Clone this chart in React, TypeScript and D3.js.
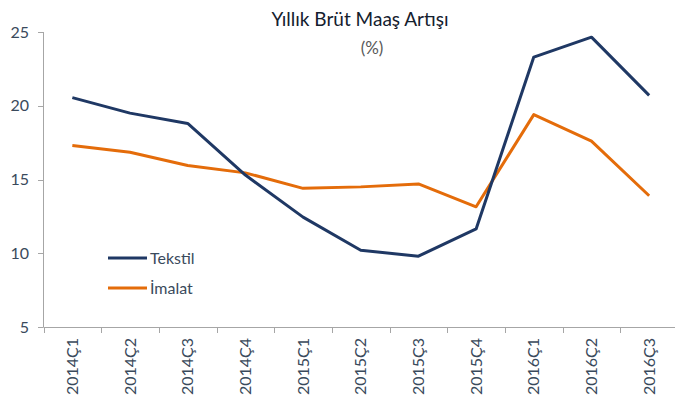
import React from "react";
import * as d3 from "d3";

const categories = ["2014Ç1","2014Ç2","2014Ç3","2014Ç4","2015Ç1","2015Ç2","2015Ç3","2015Ç4","2016Ç1","2016Ç2","2016Ç3"];
const tekstil = [20.55, 19.5, 18.8, 15.3, 12.45, 10.2, 9.8, 11.65, 23.3, 24.65, 20.7];
const imalat = [17.3, 16.85, 15.95, 15.45, 14.4, 14.5, 14.7, 13.15, 19.4, 17.6, 13.9];
const yTicks = [5, 10, 15, 20, 25];

const W = 675, H = 405;
const NAVY = "#1F3864";
const ORANGE = "#E46C0A";
const FONT = "Lato, 'Open Sans', sans-serif";

export default function App() {
  const x = d3.scaleBand().domain(categories).range([43.5, 678]);
  const y = d3.scaleLinear().domain([5, 25]).range([327, 32]);
  const cx = (c: string) => (x(c) as number) + x.bandwidth() / 2;
  const line = d3.line<number>().x((_, i) => cx(categories[i])).y(d => y(d));
  const tickX = [...categories.map(c => x(c) as number), 678];
  return (
    <div style={{ position: "absolute", left: 0, top: 0 }}>
      <svg width={W} height={H} style={{ display: "block", background: "#fff" }} fontFamily={FONT}>
        <text x={360} y={26} textAnchor="middle" fontSize={19} fill="#14202E">Yıllık Brüt Maaş Artışı</text>
        <text x={372} y={54} textAnchor="middle" fontSize={17} fill="#595959">(%)</text>
        {/* y axis */}
        <line x1={43.5} x2={43.5} y1={y(25)} y2={y(5)} stroke="#A6A6A6" />
        {yTicks.map(t => (
          <g key={t}>
            <line x1={38} x2={43.5} y1={Math.round(y(t)) + 0.5} y2={Math.round(y(t)) + 0.5} stroke="#A6A6A6" />
            <text x={29} y={y(t)} dy="0.35em" textAnchor="end" fontSize={16} fill="#3A4A5C">{t}</text>
          </g>
        ))}
        {/* x axis */}
        <line x1={43.5} x2={678} y1={327.5} y2={327.5} stroke="#A6A6A6" />
        {tickX.map((t, i) => (
          <line key={i} x1={Math.round(t) + 0.5} x2={Math.round(t) + 0.5} y1={327.5} y2={333} stroke="#A6A6A6" />
        ))}
        {categories.map(c => (
          <text key={c} transform={`translate(${cx(c) + 5.5},${338}) rotate(-90)`} textAnchor="end" fontSize={16} fill="#3A4A5C">{c}</text>
        ))}
        <path d={line(imalat) as string} fill="none" stroke={ORANGE} strokeWidth={3} strokeLinejoin="round" />
        <path d={line(tekstil) as string} fill="none" stroke={NAVY} strokeWidth={3} strokeLinejoin="round" />
        {/* legend */}
        <line x1={108} x2={147} y1={258} y2={258} stroke={NAVY} strokeWidth={3} />
        <text x={150} y={258} dy="0.35em" fontSize={16} fill="#3A4A5C">Tekstil</text>
        <line x1={108} x2={147} y1={288} y2={288} stroke={ORANGE} strokeWidth={3} />
        <text x={150} y={288} dy="0.35em" fontSize={16} fill="#3A4A5C">İmalat</text>
      </svg>
    </div>
  );
}
